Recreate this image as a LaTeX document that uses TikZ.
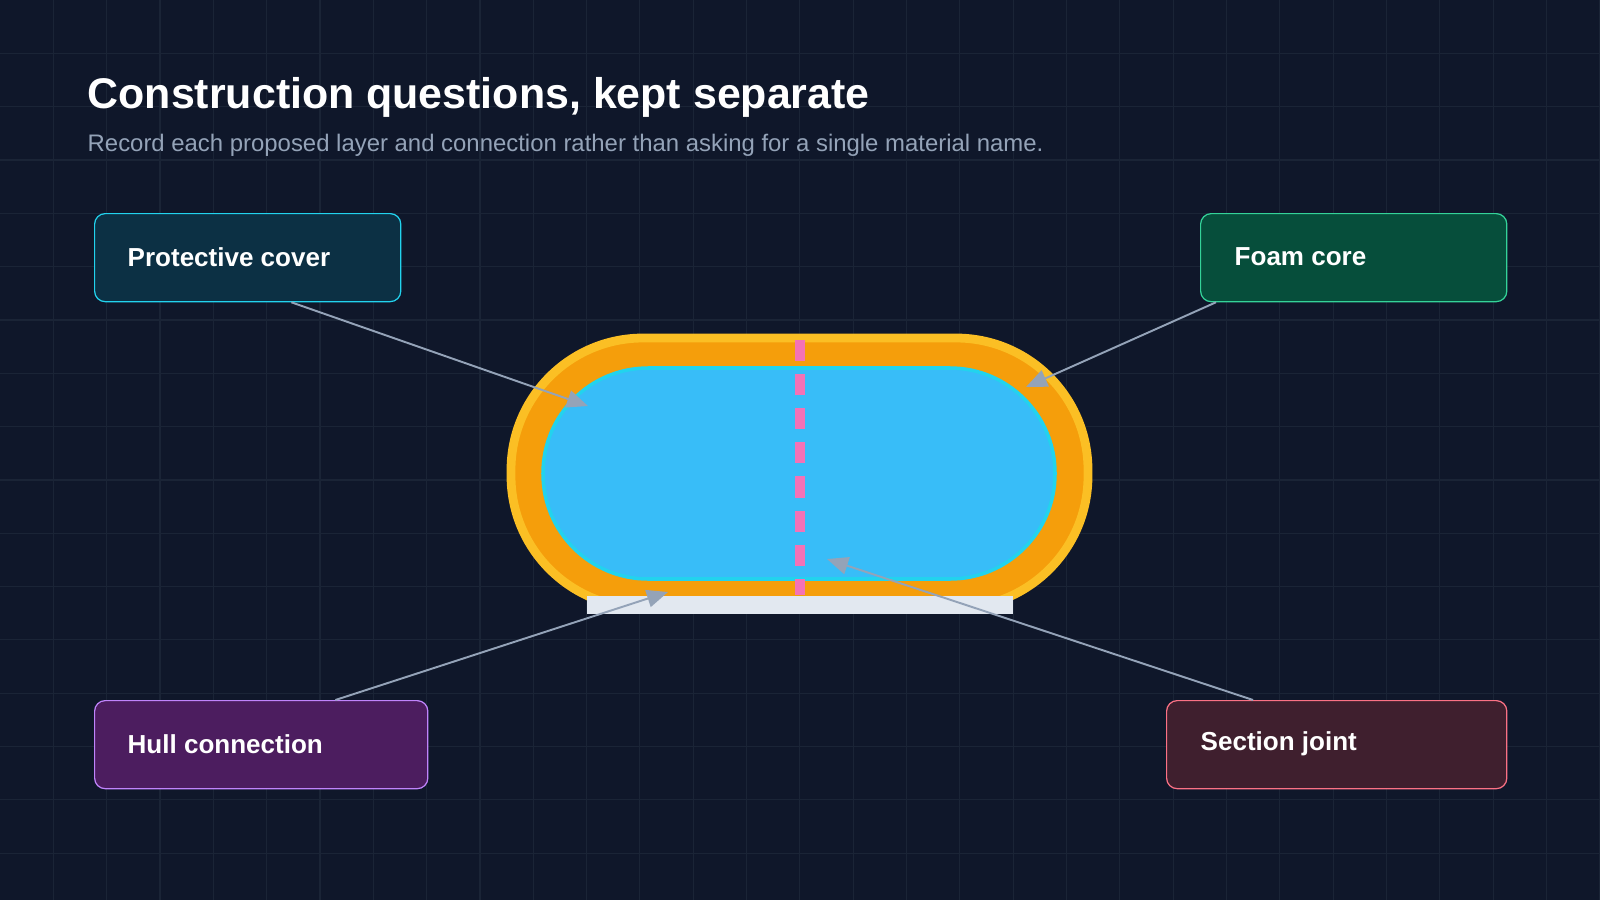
\documentclass[tikz,border=0pt]{standalone}
\usepackage{fontspec}
\setmainfont{Liberation Sans}
\usetikzlibrary{arrows.meta}
\definecolor{bg}{HTML}{0F172A}
\definecolor{gridc}{HTML}{1A2436}
\definecolor{arr}{HTML}{94A3B8}
\definecolor{plate}{HTML}{E2E8F0}
\definecolor{orangef}{HTML}{F59E0B}
\definecolor{yellowd}{HTML}{FBBF24}
\definecolor{skyf}{HTML}{38BDF8}
\definecolor{cyand}{HTML}{22D3EE}
\definecolor{pinkd}{HTML}{F472B6}
\definecolor{pcf}{HTML}{0C3044}
\definecolor{fcf}{HTML}{064E3B}
\definecolor{fcd}{HTML}{34D399}
\definecolor{hcf}{HTML}{4C1D5F}
\definecolor{hcd}{HTML}{C084FC}
\definecolor{sjf}{HTML}{3F1F2E}
\definecolor{sjd}{HTML}{FB7185}
\begin{document}
\begin{tikzpicture}[x=0.01cm,y=-0.01cm,
  box/.style 2 args={draw=#1,fill=#2,line width=0.35pt,rounded corners=3pt,anchor=north west,inner sep=0pt,minimum height=0.88cm},
  lbl/.style={anchor=west,text=white,inner sep=0pt,font=\bfseries\fontsize{7.4}{9}\selectfont},
  conn/.style={draw=arr,line width=0.55pt,-{Triangle[length=6pt,width=5pt]}}]
\fill[bg] (0,0) rectangle (1600,900);
\useasboundingbox (0,0) rectangle (1600,900);
\foreach \i in {1,...,30} \draw[gridc,line width=0.3pt] ({\i*53.33},0) -- ({\i*53.33},900);
\foreach \i in {1,...,16} \draw[gridc,line width=0.3pt] (0,{\i*53.33}) -- (1600,{\i*53.33});
\node[anchor=west,text=white,inner sep=0pt,font=\bfseries\fontsize{12.2}{14}\selectfont] (title) at (87,97) {Construction questions, kept separate};
\node[anchor=west,text=arr,inner sep=0pt,font=\fontsize{6.8}{8}\selectfont] (sub) at (87,145) {Record each proposed layer and connection rather than asking for a single material name.};
% capsule
\draw[fill=orangef,draw=yellowd,line width=2.5pt,rounded corners=1.32cm] (511,338) rectangle (1088,608);
\draw[fill=skyf,draw=cyand,line width=1pt,rounded corners=1.05cm] (543,368) rectangle (1055,579);
\draw[draw=pinkd,line width=3pt,dash pattern=on 6pt off 3.7pt] (800,340) -- (800,595);
\fill[plate] (587,596) rectangle (1013,614);
\coordinate (t1) at (588,406);
\coordinate (t2) at (1026,387);
\coordinate (t3) at (668,592);
\coordinate (t4) at (827,559);
% boxes
\node[box={cyand}{pcf},minimum width=3.06cm] (pc) at (94,213) {};
\node[lbl] (pcl) at (127,257) {Protective cover};
\node[box={fcd}{fcf},minimum width=3.06cm] (fc) at (1200,213) {};
\node[lbl] (fcl) at (1234,257) {Foam core};
\node[box={hcd}{hcf},minimum width=3.33cm] (hc) at (94,700) {};
\node[lbl] (hcl) at (127,744) {Hull connection};
\node[box={sjd}{sjf},minimum width=3.40cm] (sj) at (1166,700) {};
\node[lbl] (sjl) at (1200,744) {Section joint};
% connectors
\draw[conn] ([xshift=-1.1cm]pc.south east) -- (t1);
\draw[conn] ([xshift=0.16cm]fc.south west) -- (t2);
\draw[conn] ([xshift=-0.93cm]hc.north east) -- (t3);
\draw[conn] ([xshift=0.87cm]sj.north west) -- (t4);
\end{tikzpicture}
\end{document}
